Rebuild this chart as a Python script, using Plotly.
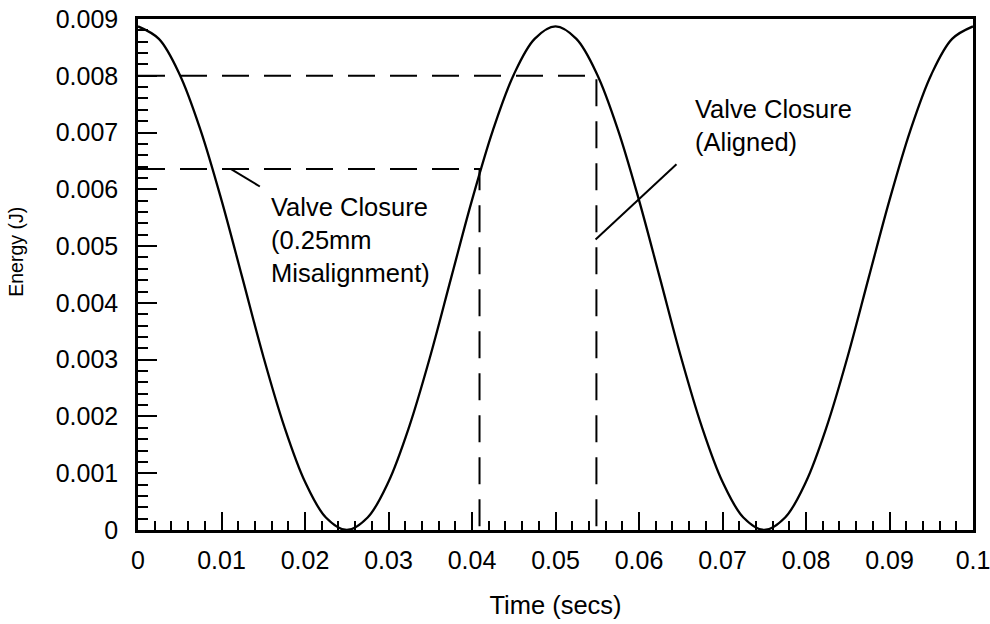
import plotly.graph_objects as go

# Sampled energy trace (time in s, energy in J)
time_s = [0.0, 0.0025, 0.005, 0.0075, 0.01, 0.0125, 0.015, 0.0175, 0.02, 0.0225,
          0.025, 0.0275, 0.03, 0.0325, 0.035, 0.0375, 0.04, 0.0425, 0.045, 0.0475,
          0.05, 0.0525, 0.055, 0.0575, 0.06, 0.0625, 0.065, 0.0675, 0.07, 0.0725,
          0.075, 0.0775, 0.08, 0.0825, 0.085, 0.0875, 0.09, 0.0925, 0.095, 0.0975, 0.1]
energy_j = [0.00887, 0.00865, 0.00802, 0.00704, 0.00581, 0.00444, 0.00306, 0.00183, 0.00085, 0.00022,
            0.0, 0.00022, 0.00085, 0.00183, 0.00306, 0.00444, 0.00581, 0.00704, 0.00802, 0.00865,
            0.00887, 0.00865, 0.00802, 0.00704, 0.00581, 0.00444, 0.00306, 0.00183, 0.00085, 0.00022,
            0.0, 0.00022, 0.00085, 0.00183, 0.00306, 0.00444, 0.00581, 0.00704, 0.00802, 0.00865, 0.00887]

# Valve closure markers: (time, energy)
closure_aligned = (0.0549, 0.0080)
closure_misaligned = (0.0409, 0.00636)

# Leader lines from labels to markers
leader_misaligned_x = [0.0111, 0.01459]
leader_misaligned_y = [0.00636, 0.00605]
leader_aligned_x = [0.0548, 0.06449]
leader_aligned_y = [0.005117, 0.00644]

x_ticks = [0, 0.01, 0.02, 0.03, 0.04, 0.05, 0.06, 0.07, 0.08, 0.09, 0.1]
x_ticktext = ["0", "0.01", "0.02", "0.03", "0.04", "0.05", "0.06", "0.07", "0.08", "0.09", "0.1"]
y_ticks = [0, 0.001, 0.002, 0.003, 0.004, 0.005, 0.006, 0.007, 0.008, 0.009]
y_ticktext = ["0", "0.001", "0.002", "0.003", "0.004", "0.005", "0.006", "0.007", "0.008", "0.009"]

FONT = "Liberation Sans, Arial, Helvetica, sans-serif"
DASH = "27px,15px"

fig = go.Figure()

fig.add_trace(go.Scatter(x=time_s, y=energy_j, mode="lines",
                         line=dict(color="black", width=2.3, shape="spline"),
                         hoverinfo="skip"))

for (tx, ey) in (closure_aligned, closure_misaligned):
    fig.add_trace(go.Scatter(x=[0, tx, tx], y=[ey, ey, 0], mode="lines",
                             line=dict(color="black", width=2, dash=DASH),
                             hoverinfo="skip"))

fig.add_trace(go.Scatter(x=leader_misaligned_x, y=leader_misaligned_y, mode="lines",
                         line=dict(color="black", width=2), hoverinfo="skip"))
fig.add_trace(go.Scatter(x=leader_aligned_x, y=leader_aligned_y, mode="lines",
                         line=dict(color="black", width=2), hoverinfo="skip"))

fig.add_annotation(x=0.0157, y=0.00511, xref="x", yref="y",
                   text="Valve Closure<br>(0.25mm<br>Misalignment)",
                   showarrow=False, xanchor="left", yanchor="middle", align="left",
                   font=dict(family=FONT, size=25.5, color="black"))
fig.add_annotation(x=0.0665, y=0.00712, xref="x", yref="y",
                   text="Valve Closure<br>(Aligned)",
                   showarrow=False, xanchor="left", yanchor="middle", align="left",
                   font=dict(family=FONT, size=25.5, color="black"))

# y-axis title, placed as a rotated paper-space label
fig.add_annotation(x=-0.147, y=0.545, xref="paper", yref="paper",
                   text="Energy (J)", textangle=-90, showarrow=False,
                   xanchor="center", yanchor="middle",
                   font=dict(family=FONT, size=19.5, color="black"))

fig.update_layout(
    width=990, height=624,
    margin=dict(l=138, r=17, t=19, b=94),
    paper_bgcolor="white", plot_bgcolor="white",
    showlegend=False,
    font=dict(family=FONT, color="black"),
)

fig.update_xaxes(
    range=[0, 0.1], automargin=False,
    tickmode="array", tickvals=x_ticks, ticktext=x_ticktext,
    ticks="inside", ticklen=18, tickwidth=2, tickcolor="black",
    tickfont=dict(size=25, family=FONT),
    ticklabelstandoff=6, ticklabeloverflow="allow",
    minor=dict(ticks="inside", ticklen=9, tickwidth=2, tickcolor="black",
               tickmode="linear", tick0=0, dtick=0.002),
    showline=True, linecolor="black", linewidth=2.5, mirror=True,
    showgrid=False, zeroline=False,
    title=dict(text="Time (secs)", font=dict(size=25.5, family=FONT), standoff=24),
)
fig.update_yaxes(
    range=[0, 0.009], automargin=False,
    tickmode="array", tickvals=y_ticks, ticktext=y_ticktext,
    ticks="inside", ticklen=19, tickwidth=2, tickcolor="black",
    tickfont=dict(size=25, family=FONT),
    ticklabelstandoff=12, ticklabeloverflow="allow",
    minor=dict(ticks="inside", ticklen=10, tickwidth=2, tickcolor="black",
               tickmode="linear", tick0=0, dtick=0.0002),
    showline=True, linecolor="black", linewidth=2.5, mirror=True,
    showgrid=False, zeroline=False,
)

fig.write_html("out.html")
